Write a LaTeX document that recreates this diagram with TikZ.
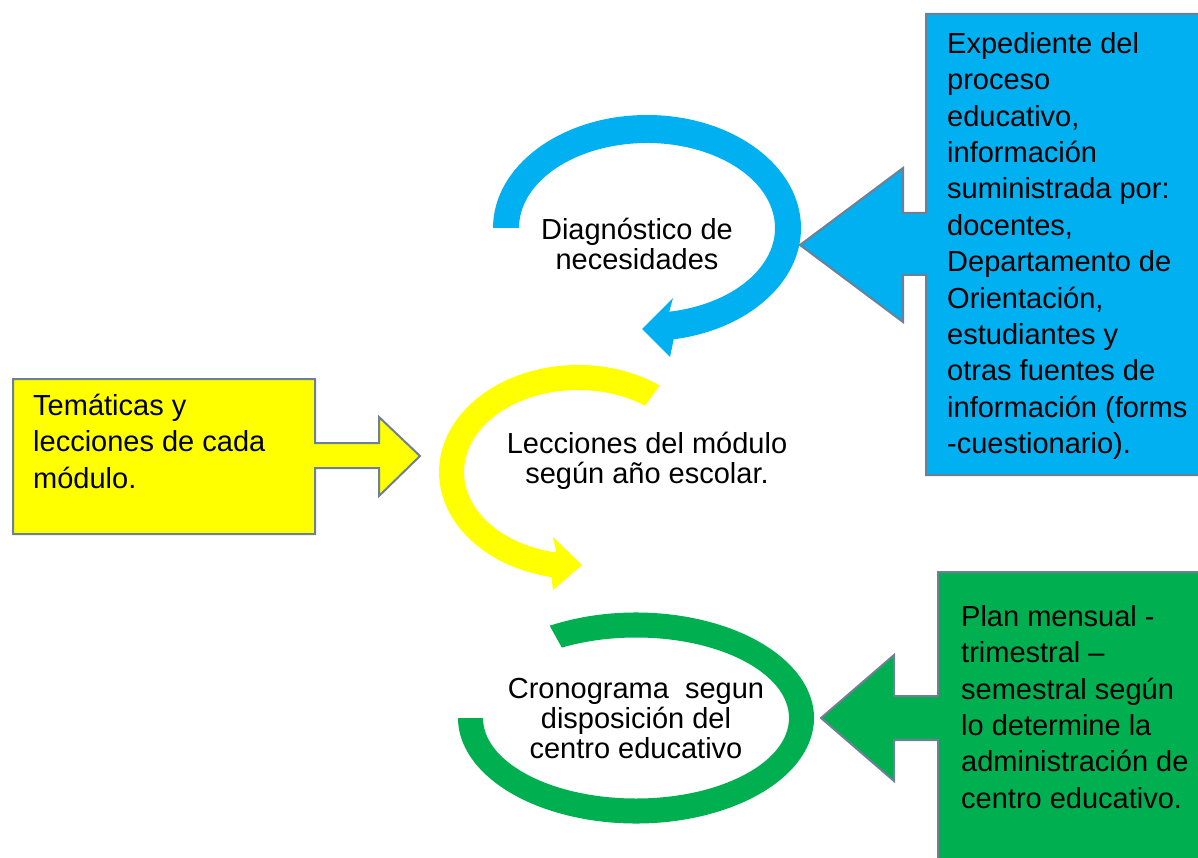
\documentclass[tikz,border=0pt]{standalone}
\usepackage{fontspec}
\setmainfont{Liberation Sans}
\usetikzlibrary{calc}
\definecolor{diagblue}{RGB}{0,176,240}
\definecolor{leccyellow}{RGB}{255,255,0}
\definecolor{cronogreen}{RGB}{0,176,80}
\definecolor{callline}{RGB}{110,128,150}

\begin{document}
\begin{tikzpicture}[x=1pt, y=-1pt,
        callout/.style={draw=callline, line width=2pt, line join=miter},
        boxtext/.style={anchor=north west, inner sep=0pt, align=left, font=\fontsize{29}{36.4}\selectfont},
        ringtext/.style={inner sep=0pt, align=center, font=\fontsize{29}{30}\selectfont}]
        \useasboundingbox (0,0) rectangle (1198,858);
        \clip (0,0) rectangle (1198,858);
        \coordinate (dcen) at (647,228);
        \coordinate (lcen) at (578,472);
        \coordinate (ccen) at (636,718);
        % rings
        \fill[diagblue] ($(dcen)+(180:154 and 113)$) arc[start angle=180, end angle=440, x radius=154, y radius=113]
            -- (670,357) -- (642,329) -- (673,298) -- ($(dcen)+(440:128 and 85)$)
            arc[start angle=440, end angle=180, x radius=128, y radius=85] -- cycle;
        \fill[leccyellow] ($(lcen)+(-54:139 and 107)$) arc[start angle=-54, end angle=-259, x radius=139, y radius=107]
            -- (553,590) -- (582,565) -- (553,537) -- ($(lcen)+(-259:114 and 82)$)
            arc[start angle=-259, end angle=-54, x radius=114, y radius=82] -- cycle;
        \fill[cronogreen] ($(ccen)+(241:178 and 105.5)$) arc[start angle=241, end angle=540, x radius=178, y radius=105.5]
            -- ($(ccen)+(540:153 and 80.5)$) arc[start angle=540, end angle=241, x radius=153, y radius=80.5] -- cycle;
        % callouts
        \draw[callout, fill=diagblue] (926,14) -- (1210,14) -- (1210,475) -- (926,475) -- (926,275) -- (903,275)
            -- (903,322) -- (800,245) -- (903,168) -- (903,213) -- (926,213) -- cycle;
        \draw[callout, fill=cronogreen] (938,572) -- (1210,572) -- (1210,870) -- (938,870) -- (938,740) -- (894,740)
            -- (894,781) -- (821,718) -- (894,655) -- (894,696) -- (938,696) -- cycle;
        \draw[callout, fill=leccyellow] (13,379) -- (315,379) -- (315,443) -- (379,443) -- (379,417) -- (420,456)
            -- (379,496) -- (379,468) -- (315,468) -- (315,534) -- (13,534) -- cycle;
        % texts
        \node[ringtext] (diag) at (637,244) {Diagnóstico de\\necesidades};
        \node[ringtext] (lecc) at (647,461) {Lecciones del módulo\\según año escolar.};
        \node[ringtext] (crono) at (636,719) {Cronograma~ segun\\disposición del\\centro educativo};
        \node[boxtext] (expe) at (947,32) {Expediente del\\proceso\\educativo,\\información\\suministrada por:\\docentes,\\Departamento de\\Orientación,\\estudiantes y\\otras fuentes de\\información (forms\\-cuestionario).};
        \node[boxtext] (plan) at (961,605) {Plan mensual -\\trimestral --\\semestral según\\lo determine la\\administración de\\centro educativo.};
        \node[boxtext] (tema) at (33,394) {Temáticas y\\lecciones de cada\\módulo.};
\end{tikzpicture}
\end{document}
